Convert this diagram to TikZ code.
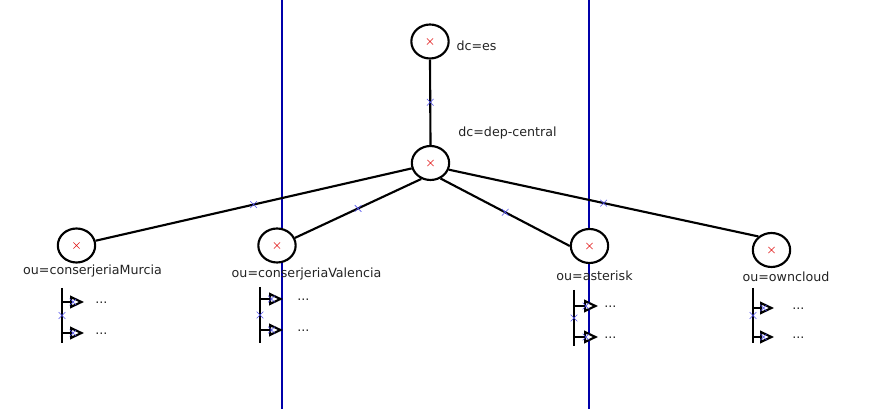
\documentclass[tikz,border=0pt]{standalone}
\usepackage{fontspec}
\setmainfont{DejaVu Sans}
\usetikzlibrary{arrows.meta,shapes.geometric,shapes.misc}
\definecolor{guideblue}{RGB}{0,0,170}
\definecolor{ptblue}{RGB}{80,80,235}
\definecolor{ptred}{RGB}{225,20,20}
\definecolor{txtgray}{RGB}{35,35,35}

\begin{document}
\begin{tikzpicture}[x=0.75pt, y=-0.75pt, font=\fontsize{9.5}{11}\selectfont,
  entrynode/.style={ellipse, draw, fill=white, line width=1.6pt, minimum width=28pt,
    minimum height=25.5pt, inner sep=0pt,
    path picture={\draw[ptred, line width=0.45pt]
      ([shift={(-2.3pt,-2.3pt)}]path picture bounding box.center) -- ++(4.6pt,4.6pt)
      ([shift={(-2.3pt,2.3pt)}]path picture bounding box.center) -- ++(4.6pt,-4.6pt);}},
  conn/.style={line width=1.6pt},
  cpoint/.style={cross out, draw=ptblue, line width=0.45pt, minimum size=4.5pt, inner sep=0pt},
  lbl/.style={anchor=base, text=txtgray, inner sep=0pt},
  moretxt/.style={anchor=base west, text=txtgray, inner sep=0pt},
  subarrow/.style={line width=1.6pt, -{Triangle[open, fill=white, length=10.5pt, width=9.5pt]}}]
\useasboundingbox (0,0) rectangle (896,409);
% guide lines
\draw[guideblue, line width=1pt] (282,0) -- (282,409);
\draw[guideblue, line width=1pt] (589,0) -- (589,409);
% entries
\node[entrynode] (es) at (430,41.5) {};
\node[entrynode] (dep) at (430.5,163) {};
\node[entrynode] (mur) at (76.5,245.5) {};
\node[entrynode] (val) at (277,245.5) {};
\node[entrynode] (ast) at (589.5,246) {};
\node[entrynode] (own) at (771.5,250) {};
\node[lbl] (es-l) at (476.5,51) {dc=es};
\node[lbl] (dep-l) at (507.5,136.5) {dc=dep-central};
\node[lbl] (mur-l) at (92.5,274.5) {ou=conserjeriaMurcia};
\node[lbl] (val-l) at (306.5,278) {ou=conserjeriaValencia};
\node[lbl] (ast-l) at (594.5,281) {ou=asterisk};
\node[lbl] (own-l) at (786,282) {ou=owncloud};
% tree links
\draw[conn] (es.south) -- node[cpoint]{} (dep.north);
\draw[conn] (dep.196) -- node[cpoint]{} (mur.14);
\draw[conn] (dep.240) -- node[cpoint]{} (val.23);
\draw[conn] (dep.303) -- node[cpoint]{} (ast.180);
\draw[conn] (dep.340) -- node[cpoint]{} (own.134);
% children below each ou
\foreach \nm/\bx/\ytop/\ybot/\ya/\yb/\tx/\dx in
  {mur/62/288/343/302/333/84/95, val/260/287/343/299/330/283/297,
   ast/574/290/346/306/337/598/604, own/753/288/343/308/337/774/792}
{
  \coordinate (\nm-top) at (\bx,\ytop);
  \coordinate (\nm-bot) at (\bx,\ybot);
  \coordinate (\nm-a) at (\bx,\ya);
  \coordinate (\nm-b) at (\bx,\yb);
  \coordinate (\nm-ta) at (\tx,\ya);
  \coordinate (\nm-tb) at (\tx,\yb);
  \node[moretxt] (\nm-ma) at (\dx,\ya+1.5) {...};
  \node[moretxt] (\nm-mb) at (\dx,\yb+1.5) {...};
  \draw[conn] (\nm-top) -- node[cpoint]{} (\nm-bot);
  \draw[subarrow] (\nm-a) -- node[cpoint]{} (\nm-ta);
  \draw[subarrow] (\nm-b) -- node[cpoint]{} (\nm-tb);
}
\end{tikzpicture}
\end{document}
